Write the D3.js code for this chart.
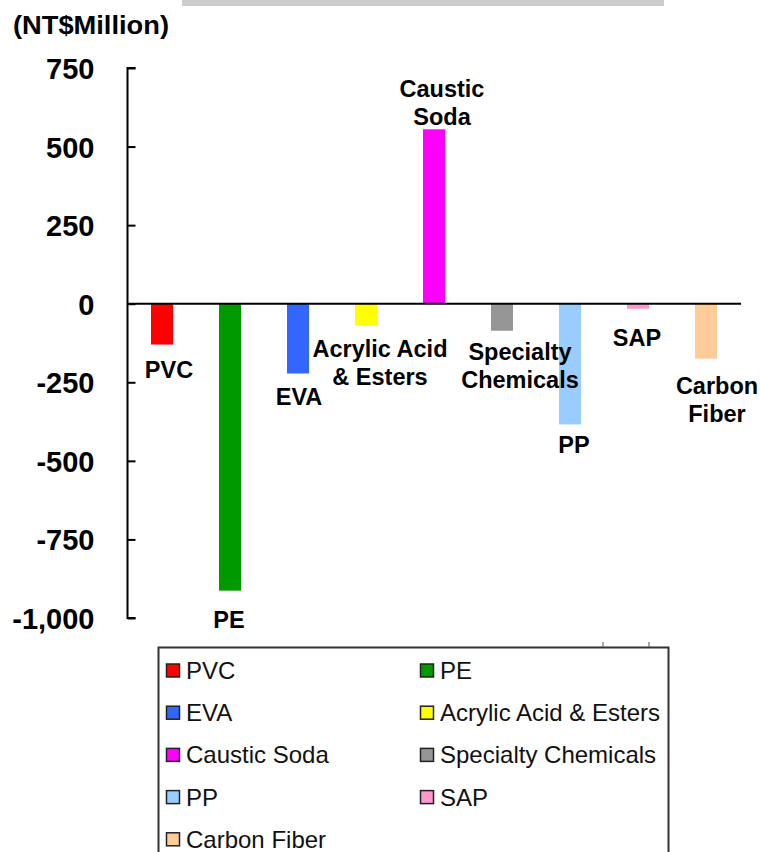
<!DOCTYPE html>
<html>
<head>
<meta charset="utf-8">
<script src="https://cdn.jsdelivr.net/npm/d3@7"></script>
<style>
  html, body { margin: 0; padding: 0; background: #fff; }
  svg { display: block; }
</style>
</head>
<body>
<svg id="chart" width="760" height="852"></svg>
<script>
// ---- data ----
const categories = ["PVC", "PE", "EVA", "Acrylic Acid & Esters", "Caustic Soda",
                    "Specialty Chemicals", "PP", "SAP", "Carbon Fiber"];
const values = [-130, -913, -222, -70, 555, -86, -384, -16, -175];
const labelLines = [["PVC"], ["PE"], ["EVA"], ["Acrylic Acid", "& Esters"], ["Caustic", "Soda"],
                    ["Specialty", "Chemicals"], ["PP"], ["SAP"], ["Carbon", "Fiber"]];
const colors = ["#ff0000", "#009900", "#3366ff", "#ffff00", "#ff00ff",
                "#969696", "#99ccff", "#ff99cc", "#ffcc99"];
const tickValues = [750, 500, 250, 0, -250, -500, -750, -1000];
const tickLabels = ["750", "500", "250", "0", "-250", "-500", "-750", "-1,000"];
const unitLabel = "(NT$Million)";

// label nudges (layout only)
const labelDx = [7, -1, 1, 14, 8, 18, 4, -1, 11];
const labelDy = [33, 37, 32, 31, -4, 29, 29, 37, 35];

// ---- layout ----
const svg = d3.select("#chart");
const font = "'Liberation Sans', Arial, Helvetica, sans-serif";

const y = d3.scaleLinear().domain([-1000, 750]).range([618, 68]);
const pi = 46 / 68;
const x = d3.scaleBand().domain(categories).range([128, 740])
  .paddingInner(pi).paddingOuter(pi / 2);

// top grey strip
svg.append("rect").attr("x", 182).attr("y", 0).attr("width", 482).attr("height", 6)
  .attr("fill", "#cccccc");

// unit label
svg.append("text").attr("x", 13).attr("y", 34)
  .attr("font-family", font).attr("font-weight", "bold").attr("font-size", 26)
  .attr("textLength", 156).attr("lengthAdjust", "spacingAndGlyphs")
  .attr("fill", "#000").text(unitLabel);

// bars
svg.append("g").selectAll("rect").data(values).join("rect")
  .attr("x", (d, i) => x(categories[i]))
  .attr("width", x.bandwidth())
  .attr("y", d => y(Math.max(0, d)))
  .attr("height", d => Math.abs(y(d) - y(0)))
  .attr("fill", (d, i) => colors[i]);

// y axis
const yAxis = d3.axisRight(y).tickValues(tickValues).tickSize(8)
  .tickFormat((d, i) => tickLabels[i]);
const ag = svg.append("g").attr("transform", "translate(127.5,0)").call(yAxis);
ag.select(".domain").attr("stroke", "#000").attr("stroke-width", 2)
  .attr("d", `M8,${y(750)}H0V${y(-1000)}H8`);
ag.selectAll(".tick line").attr("stroke", "#000").attr("stroke-width", 2);
ag.selectAll(".tick text")
  .attr("x", -33).attr("dy", "0.36em")
  .attr("text-anchor", "end")
  .attr("font-family", font).attr("font-weight", "bold").attr("font-size", 29)
  .attr("fill", "#000");

// zero line
svg.append("line").attr("x1", 127).attr("x2", 741)
  .attr("y1", y(0)).attr("y2", y(0))
  .attr("stroke", "#000").attr("stroke-width", 2);

// category labels
const lh = 28;
const lg = svg.append("g").attr("font-family", font).attr("font-weight", "bold")
  .attr("font-size", 23.5).attr("text-anchor", "middle").attr("fill", "#000");
values.forEach((v, i) => {
  const cx = x(categories[i]) + x.bandwidth() / 2 + labelDx[i];
  const lines = labelLines[i];
  const t = lg.append("text");
  let y0;
  if (v < 0) y0 = y(v) + labelDy[i];
  else y0 = y(v) + labelDy[i] - (lines.length - 1) * lh;
  lines.forEach((ln, k) => {
    t.append("tspan").attr("x", cx).attr("y", y0 + k * lh).text(ln);
  });
});

// legend
const legX = 158.5, legY = 647.5;
svg.append("rect").attr("x", legX).attr("y", legY).attr("width", 510).attr("height", 230)
  .attr("fill", "none").attr("stroke", "#333").attr("stroke-width", 2);
svg.append("line").attr("x1", 603).attr("x2", 603).attr("y1", 642).attr("y2", 647)
  .attr("stroke", "#555").attr("stroke-width", 1);
svg.append("line").attr("x1", 649).attr("x2", 649).attr("y1", 642).attr("y2", 647)
  .attr("stroke", "#555").attr("stroke-width", 1);

const legG = svg.append("g");
categories.forEach((c, i) => {
  const col = i % 2, row = Math.floor(i / 2);
  const sx = col === 0 ? 166.5 : 420.5;
  const cy = 670.5 + row * 42.2;
  legG.append("rect").attr("x", sx).attr("y", cy - 6.5).attr("width", 13).attr("height", 13)
    .attr("fill", colors[i]).attr("stroke", "#222").attr("stroke-width", 1.5);
  legG.append("text").attr("x", sx + 19.5).attr("y", cy).attr("dy", "0.35em")
    .attr("font-family", font).attr("font-size", 24).attr("fill", "#111")
    .text(c);
});
</script>
</body>
</html>
